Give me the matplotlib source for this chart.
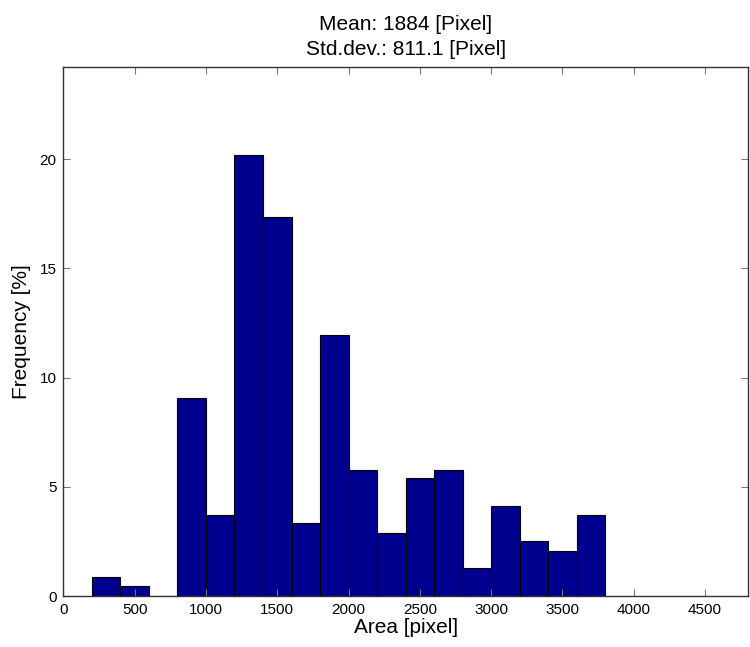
import matplotlib.pyplot as plt
import numpy as np

plt.rcParams['font.family'] = ['Liberation Sans', 'DejaVu Sans']

# histogram bins (left edges, width 200) and frequencies in %
bin_left = [200, 400, 600, 800, 1000, 1200, 1400, 1600, 1800,
            2000, 2200, 2400, 2600, 2800, 3000, 3200, 3400, 3600]
freq = [0.85, 0.46, 0.0, 9.07, 3.71, 20.18, 17.33, 3.33, 11.96,
        5.77, 2.90, 5.38, 5.77, 1.27, 4.12, 2.52, 2.07, 3.71]
bin_width = 200
xticks = [0, 500, 1000, 1500, 2000, 2500, 3000, 3500, 4000, 4500]
yticks = [0, 5, 10, 15, 20]

fig = plt.figure(figsize=(7.5, 6.47), dpi=100)
ax = fig.add_axes([0.0845, 0.0788, 0.9125, 0.8172])

ax.bar(bin_left, freq, width=bin_width, align='edge',
       color='#00008f', edgecolor='black', linewidth=0.8)

ax.set_xlim(0, 4800)
ax.set_ylim(0, 24.2)
ax.set_xticks(xticks)
ax.set_yticks(yticks)
ax.tick_params(direction='in', length=5, color='#777777', labelsize=11,
               top=True, right=True, pad=5)
for s in ax.spines.values():
    s.set_color('#333333')
    s.set_linewidth(1.0)

ax.set_xlabel('Area [pixel]', fontsize=15, labelpad=1)
ax.set_ylabel('Frequency [%]', fontsize=15, labelpad=6)
ax.set_title('Mean: 1884 [Pixel]\nStd.dev.: 811.1 [Pixel]', fontsize=15,
             linespacing=1.4, pad=9)

fig.savefig('out.png', dpi=100)
